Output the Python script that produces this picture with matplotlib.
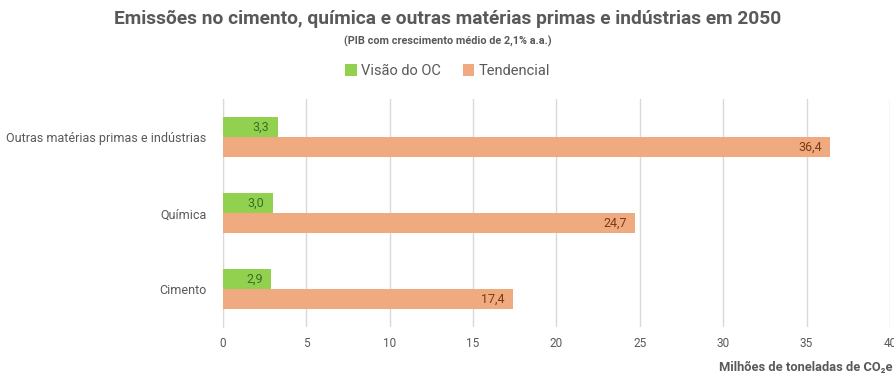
import matplotlib
matplotlib.use("Agg")
import matplotlib.pyplot as plt
import numpy as np

categories = ["Cimento", "Química", "Outras matérias primas e indústrias"]
visao_oc = [2.9, 3.0, 3.3]
tendencial = [17.4, 24.7, 36.4]
series_names = ["Visão do OC", "Tendencial"]
xticks = [0, 5, 10, 15, 20, 25, 30, 35, 40]

plt.rcParams["font.family"] = ["Roboto", "DejaVu Sans"]

green = "#92D050"
orange = "#F0AA80"
gray_text = "#595959"

fig = plt.figure(figsize=(8.95, 3.74), dpi=100)
ax = fig.add_axes([0.249, 0.1257, 0.7454, 0.609])

y = np.arange(len(categories))
h = 0.263
b1 = ax.barh(y + h / 2, visao_oc, height=h, color=green, label=series_names[0], zorder=3)
b2 = ax.barh(y - h / 2, tendencial, height=h, color=orange, label=series_names[1], zorder=3)

for v, yy in zip(visao_oc, y + h / 2):
    ax.text(v - 0.5, yy, f"{v:.1f}".replace(".", ","), ha="right", va="center",
            fontsize=9, color="#3B6E22", zorder=4)
for v, yy in zip(tendencial, y - h / 2):
    ax.text(v - 0.5, yy, f"{v:.1f}".replace(".", ","), ha="right", va="center",
            fontsize=9, color="#7A3A12", zorder=4)

ax.set_xlim(0, 40)
ax.set_ylim(-0.5, 2.5)
ax.set_xticks(xticks)
ax.set_xticklabels([str(t) for t in xticks], fontsize=8.5, color=gray_text)
ax.set_yticks(y)
ax.set_yticklabels(categories, fontsize=9, color=gray_text)
ax.tick_params(axis="x", length=0, pad=7)
ax.tick_params(axis="y", length=0, pad=12)
ax.grid(axis="x", color="#D9D9D9", linewidth=1, zorder=0)
for s in ["top", "right", "bottom"]:
    ax.spines[s].set_visible(False)
ax.spines["left"].set_color("#D9D9D9")
ax.spines["left"].set_zorder(1)

fig.text(0.5, 0.948, "Emissões no cimento, química e outras matérias primas e indústrias em 2050",
         ha="center", va="center", fontsize=13.8, fontweight="bold", color=gray_text,
         fontstretch="condensed")
fig.text(0.5, 0.89, "(PIB com crescimento médio de 2,1% a.a.)", ha="center", va="center",
         fontsize=7.8, fontweight="bold", color=gray_text)
fig.legend(handles=[b1, b2], labels=series_names, loc="center", bbox_to_anchor=(0.5, 0.81),
           ncol=2, frameon=False, fontsize=10.5, handlelength=0.8, handleheight=0.8,
           columnspacing=1.5, handletextpad=0.3, labelcolor=gray_text)
fig.text(0.997, 0.0, "Milhões de toneladas de CO₂e", ha="right", va="bottom",
         fontsize=9.3, fontweight="bold", color=gray_text)

fig.savefig("out.png", dpi=100)
